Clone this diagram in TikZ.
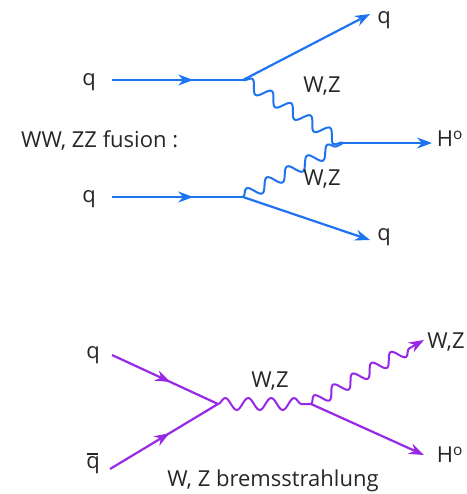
\documentclass[tikz,border=0pt]{standalone}
\usepackage{fontspec}
\setmainfont{Open Sans}
\usetikzlibrary{arrows.meta,decorations.pathmorphing,decorations.markings}
\definecolor{qblue}{RGB}{30,115,240}
\definecolor{qpurple}{RGB}{150,40,230}
\tikzset{
  lbl/.style={font=\fontsize{22}{26}\selectfont, text=black!85, inner sep=0pt},
  fermion/.style={line width=2.2pt, postaction={decorate}, decoration={markings, mark=at position #1 with {\arrow{Stealth[length=15pt,width=11pt]}}}},
  fermion/.default=0.62,
  outline/.style={line width=2.2pt, -{Stealth[length=15pt,width=11pt]}},
  boson/.style={line width=2pt, decorate, decoration={snake, amplitude=6pt, segment length=#1}},
  boson/.default=22pt
}
\begin{document}
\begin{tikzpicture}[x=1pt,y=-1pt]
\useasboundingbox (0,0) rectangle (466,494);
% ---- WW, ZZ fusion ----
\begin{scope}[color=qblue]
\coordinate (i1) at (112,80);
\coordinate (i2) at (112,197);
\coordinate (v1) at (243,80);
\coordinate (v2) at (243,197);
\coordinate (v3) at (343,143);
\coordinate (o1) at (370,14);
\coordinate (o2) at (370,240);
\coordinate (oh) at (432,143);
\draw[fermion] (i1) -- (v1);
\draw[fermion] (i2) -- (v2);
\draw[outline] (v1) -- (o1);
\draw[outline] (v2) -- (o2);
\draw[outline] (v3) -- (oh);
\draw[boson=23pt] (v1) -- (v3);
\draw[boson=23pt] (v2) -- (v3);
\end{scope}
\node[lbl] (tq1) at (89,82) {q};
\node[lbl] (tq2) at (89,199) {q};
\node[lbl] (tq3) at (384,20) {q};
\node[lbl] (tq4) at (384,237) {q};
\node[lbl] (th) at (450,139) {H\textsuperscript{o}};
\node[lbl] (tw1) at (322,86) {W,Z};
\node[lbl] (tw2) at (322,179) {W,Z};
\node[lbl,anchor=west] (tf) at (21,141) {WW, ZZ fusion :};
% ---- W,Z bremsstrahlung ----
\begin{scope}[color=qpurple]
\coordinate (bi1) at (112,355);
\coordinate (bi2) at (110,469);
\coordinate (bv1) at (218,404);
\coordinate (bv2) at (311,404);
\coordinate (bo1) at (424,340);
\coordinate (bo2) at (424,455);
\draw[fermion=0.55] (bi1) -- (bv1);
\draw[fermion=0.55] (bi2) -- (bv1);
\draw[boson=23pt] (bv1) -- (bv2);
\draw[outline] (bv2) -- (bo2);
\draw[line width=2pt, decorate, decoration={snake, amplitude=6pt, segment length=22pt, post length=12pt}, -{Stealth[length=15pt,width=11pt]}] (bv2) -- (bo1);
\end{scope}
\node[lbl] (bq1) at (93,355) {q};
\node[lbl] (bq2) at (93,463) {\makebox[0pt][l]{\hspace{0.5pt}\rule[13.5pt]{11pt}{2pt}}q};
\node[lbl] (bw1) at (270,381) {W,Z};
\node[lbl] (bw2) at (446,342) {W,Z};
\node[lbl] (bh) at (450,455) {H\textsuperscript{o}};
\node[lbl] (bt) at (273,481) {W, Z bremsstrahlung};
\end{tikzpicture}
\end{document}
